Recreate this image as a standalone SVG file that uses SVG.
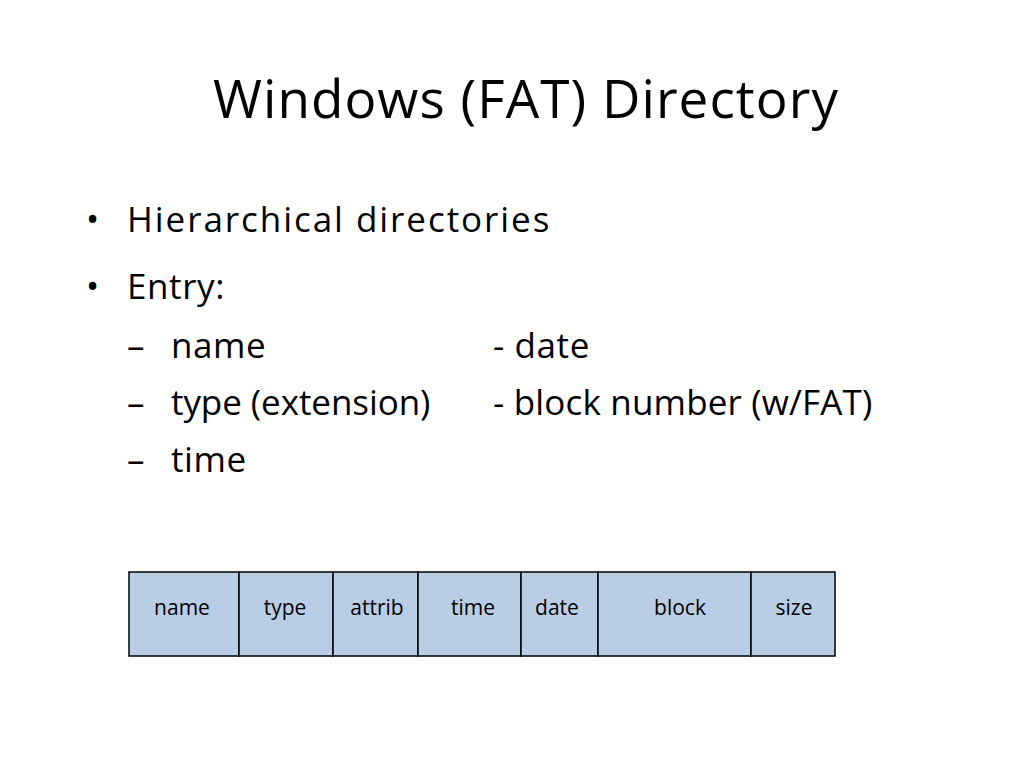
<svg xmlns="http://www.w3.org/2000/svg" width="1024" height="768" viewBox="0 0 1024 768">
<style>
text{font-family:"Open Sans","Liberation Sans",sans-serif;fill:#000}
.b{font-size:35px;letter-spacing:0.6px}
.c{font-size:21px;text-anchor:middle}
rect{fill:#b9cde5;stroke:#000;stroke-width:1.5}
</style>
<rect x="0" y="0" width="1024" height="768" style="fill:#fff;stroke:none"/>
<text x="213" y="118" font-size="53" textLength="625">Windows (FAT) Directory</text>
<text x="86" y="232" class="b">•</text><text x="127" y="232" class="b" textLength="423">Hierarchical directories</text>
<text x="86" y="299" class="b">•</text><text x="127" y="299" class="b">Entry:</text>
<text x="127" y="358" class="b">–</text><text x="171" y="358" class="b">name</text>
<text x="127" y="415" class="b">–</text><text x="171" y="415" class="b" textLength="260">type (extension)</text>
<text x="127" y="472" class="b">–</text><text x="171" y="472" class="b">time</text>
<text x="493" y="358" class="b">- date</text>
<text x="493" y="415" class="b" textLength="380">- block number (w/FAT)</text>
<g id="n1"><rect x="129" y="572" width="110" height="84"/><text x="182" y="615" class="c">name</text></g>
<g id="n2"><rect x="239" y="572" width="94" height="84"/><text x="285" y="615" class="c">type</text></g>
<g id="n3"><rect x="333" y="572" width="85" height="84"/><text x="377" y="615" class="c">attrib</text></g>
<g id="n4"><rect x="418" y="572" width="103" height="84"/><text x="473" y="615" class="c">time</text></g>
<g id="n5"><rect x="521" y="572" width="77" height="84"/><text x="557" y="615" class="c">date</text></g>
<g id="n6"><rect x="598" y="572" width="153" height="84"/><text x="680" y="615" class="c">block</text></g>
<g id="n7"><rect x="751" y="572" width="84" height="84"/><text x="794" y="615" class="c">size</text></g>
<g id="connectors"/>
</svg>
